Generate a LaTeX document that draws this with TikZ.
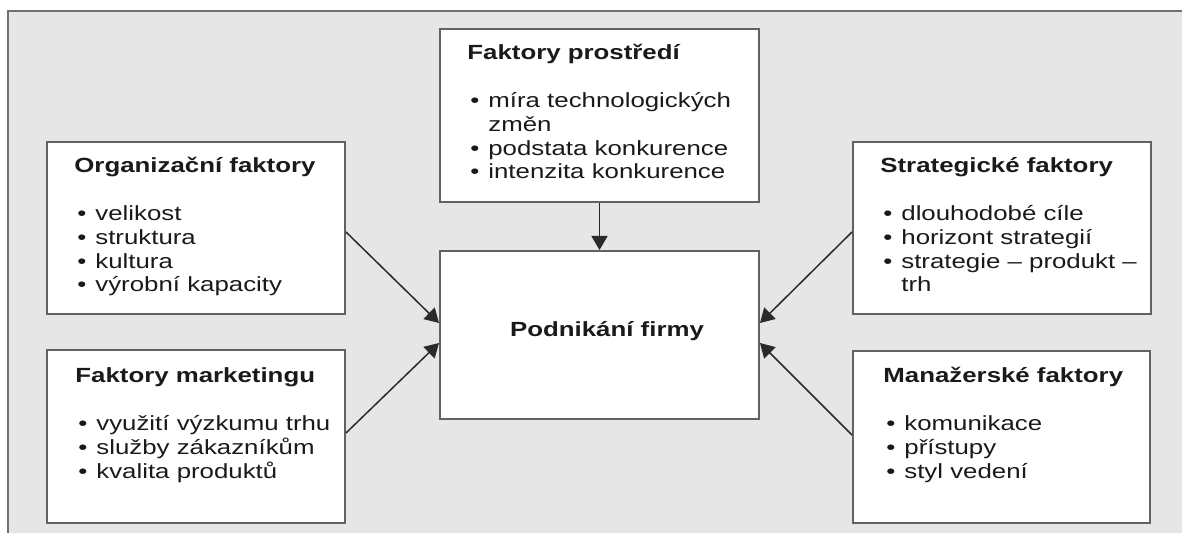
\documentclass[tikz,border=0pt]{standalone}
\usepackage{fontspec}
\setmainfont{Liberation Sans}[FakeStretch=1.26]
\usetikzlibrary{arrows.meta}

\definecolor{panel}{HTML}{E6E6E6}
\definecolor{frameline}{HTML}{707070}
\definecolor{boxline}{HTML}{626262}
\definecolor{ink}{HTML}{1A1A1A}
\definecolor{arrowink}{HTML}{2A2A2A}

% bullet item, continuation line, and a titled factor list
\newcommand{\itm}[1]{\hspace*{1.5pt}\makebox[9pt][l]{•}#1}
\newcommand{\cont}[1]{\hspace*{10.5pt}#1}
\newcommand{\factorlist}[2]{\begin{tabular}[t]{@{}l@{}}\textbf{#1}\\ \\ #2\end{tabular}}

\tikzset{
  factorbox/.style={draw=boxline, line width=1pt, fill=white, rectangle, inner sep=0pt},
  factortext/.style={anchor=base west, inner sep=0pt, text=ink,
    font=\fontsize{10.25}{11.9}\selectfont},
  flow/.style={draw=arrowink, line width=0.75pt, -{Triangle[length=7pt,width=8pt]}}
}

\begin{document}
\begin{tikzpicture}[x=0.5pt,y=-0.5pt]
\useasboundingbox (0,0) rectangle (1182,533);

% grey panel with its top and left frame lines
\fill[panel] (8,11) rectangle (1182,533);
\draw[frameline, line width=1pt] (8,533) -- (8,11) -- (1182,11);

% boxes
\node[factorbox, minimum width=149pt, minimum height=86pt]   (org)   at (196,228)   {};
\node[factorbox, minimum width=149pt, minimum height=86.5pt] (mkt)   at (196,436.5) {};
\node[factorbox, minimum width=159.5pt, minimum height=86.5pt] (env) at (599.5,115.5) {};
\node[factorbox, minimum width=159.5pt, minimum height=84pt] (firm)  at (599.5,335) {};
\node[factorbox, minimum width=149pt, minimum height=86pt]   (strat) at (1002,228)  {};
\node[factorbox, minimum width=148.5pt, minimum height=86pt] (mgr)   at (1001.5,437) {};

% box contents
\node[factortext] (orgtext) at (74,173)
  {\factorlist{Organizační faktory}{\itm{velikost}\\ \itm{struktura}\\ \itm{kultura}\\ \itm{výrobní kapacity}}};
\node[factortext] (mkttext) at (75,383)
  {\factorlist{Faktory marketingu}{\itm{využití výzkumu trhu}\\ \itm{služby zákazníkům}\\ \itm{kvalita produktů}}};
\node[factortext] (envtext) at (467,60)
  {\factorlist{Faktory prostředí}{\itm{míra technologických}\\ \cont{změn}\\ \itm{podstata konkurence}\\ \itm{intenzita konkurence}}};
\node[factortext] (strattext) at (880,173)
  {\factorlist{Strategické faktory}{\itm{dlouhodobé cíle}\\ \itm{horizont strategií}\\ \itm{strategie – produkt –}\\ \cont{trh}}};
\node[factortext] (mgrtext) at (883,383)
  {\factorlist{Manažerské faktory}{\itm{komunikace}\\ \itm{přístupy}\\ \itm{styl vedení}}};
\node[factortext, anchor=base] (firmtext) at (607,337) {\textbf{Podnikání firmy}};

% influences on the firm
\draw[flow] (env.south) -- (firm.north);
\draw[flow] ([yshift=-2pt]org.east) -- ([yshift=6pt]firm.west);
\draw[flow] ([yshift=1.75pt]mkt.east) -- ([yshift=-4pt]firm.west);
\draw[flow] ([yshift=-2pt]strat.west) -- ([yshift=6pt]firm.east);
\draw[flow] ([yshift=1pt]mgr.west) -- ([yshift=-4pt]firm.east);
\end{tikzpicture}
\end{document}
